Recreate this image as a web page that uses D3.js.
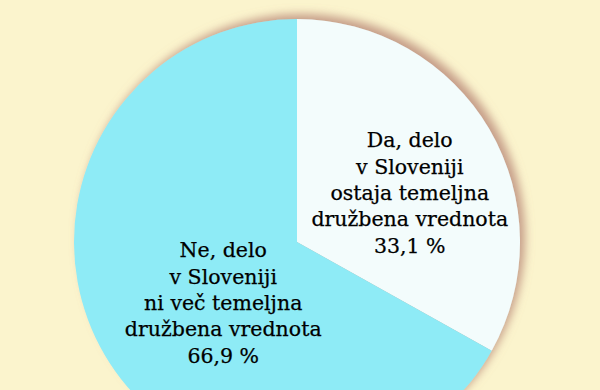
<!DOCTYPE html>
<html>
<head>
<meta charset="utf-8">
<script src="https://cdn.jsdelivr.net/npm/d3@7"></script>
<style>
  html, body { margin: 0; padding: 0; background: #fbf4cd; }
  svg { display: block; }
</style>
</head>
<body>
<div id="chart"></div>
<script>
// data
var categories = ["Da", "Ne"],
    values = [33.1, 66.9],
    labelLines = [
        ["Da, delo", "v Sloveniji", "ostaja temeljna", "družbena vrednota"],
        ["Ne, delo", "v Sloveniji", "ni več temeljna", "družbena vrednota"]
    ],
    colors = ["#f3fcfc", "#8eebf6"];

// layout
var width = 600,
    height = 390,
    cx = 297,
    cy = 242,
    radius = 223,
    lineHeight = 26.4,
    labelShift = [[7, 20], [32, 6]];

var fmt = d3.format(".1f");

var svg = d3.select("#chart").append("svg")
    .attr("width", width)
    .attr("height", height);

svg.append("rect")
    .attr("width", width)
    .attr("height", height)
    .attr("fill", "#fbf4cd");

// soft shadow falling up and to the right of the disc
var defs = svg.append("defs");
var filter = defs.append("filter")
    .attr("id", "shadow")
    .attr("x", "-20%").attr("y", "-20%")
    .attr("width", "140%").attr("height", "140%");
filter.append("feDropShadow")
    .attr("dx", 5)
    .attr("dy", -5)
    .attr("stdDeviation", 5)
    .attr("flood-color", "#b88878")
    .attr("flood-opacity", 0.8);

var pie = d3.pie().sort(null).value(function (d) { return d.value; }),
    arc = d3.arc().innerRadius(0).outerRadius(radius),
    labelArc = d3.arc().innerRadius(radius * 0.55).outerRadius(radius * 0.55);

var data = categories.map(function (c, i) {
    return { key: c, value: values[i], lines: labelLines[i], color: colors[i], idx: i };
});
var arcs = pie(data);

var g = svg.append("g")
    .attr("transform", "translate(" + cx + "," + cy + ")");

g.append("g")
    .attr("filter", "url(#shadow)")
    .selectAll("path")
    .data(arcs)
    .enter().append("path")
    .attr("d", arc)
    .attr("fill", function (d) { return d.data.color; });

var labels = g.selectAll("text.label")
    .data(arcs)
    .enter().append("text")
    .attr("class", "label")
    .attr("text-anchor", "middle")
    .attr("font-family", "DejaVu Serif")
    .attr("font-size", 20.5)
    .attr("fill", "#000")
    .attr("stroke", "#000")
    .attr("stroke-width", 0.25)
    .attr("transform", function (d) {
        var c = labelArc.centroid(d),
            s = labelShift[d.data.idx];
        return "translate(" + (c[0] + s[0]) + "," + (c[1] + s[1]) + ")";
    });

labels.each(function (d) {
    var lines = d.data.lines.concat([fmt(d.data.value).replace(".", ",") + " %"]),
        n = lines.length;
    d3.select(this).selectAll("tspan")
        .data(lines)
        .enter().append("tspan")
        .attr("x", 0)
        .attr("y", function (l, i) { return (i - (n - 1) / 2) * lineHeight; })
        .text(function (l) { return l; });
});
</script>
</body>
</html>
